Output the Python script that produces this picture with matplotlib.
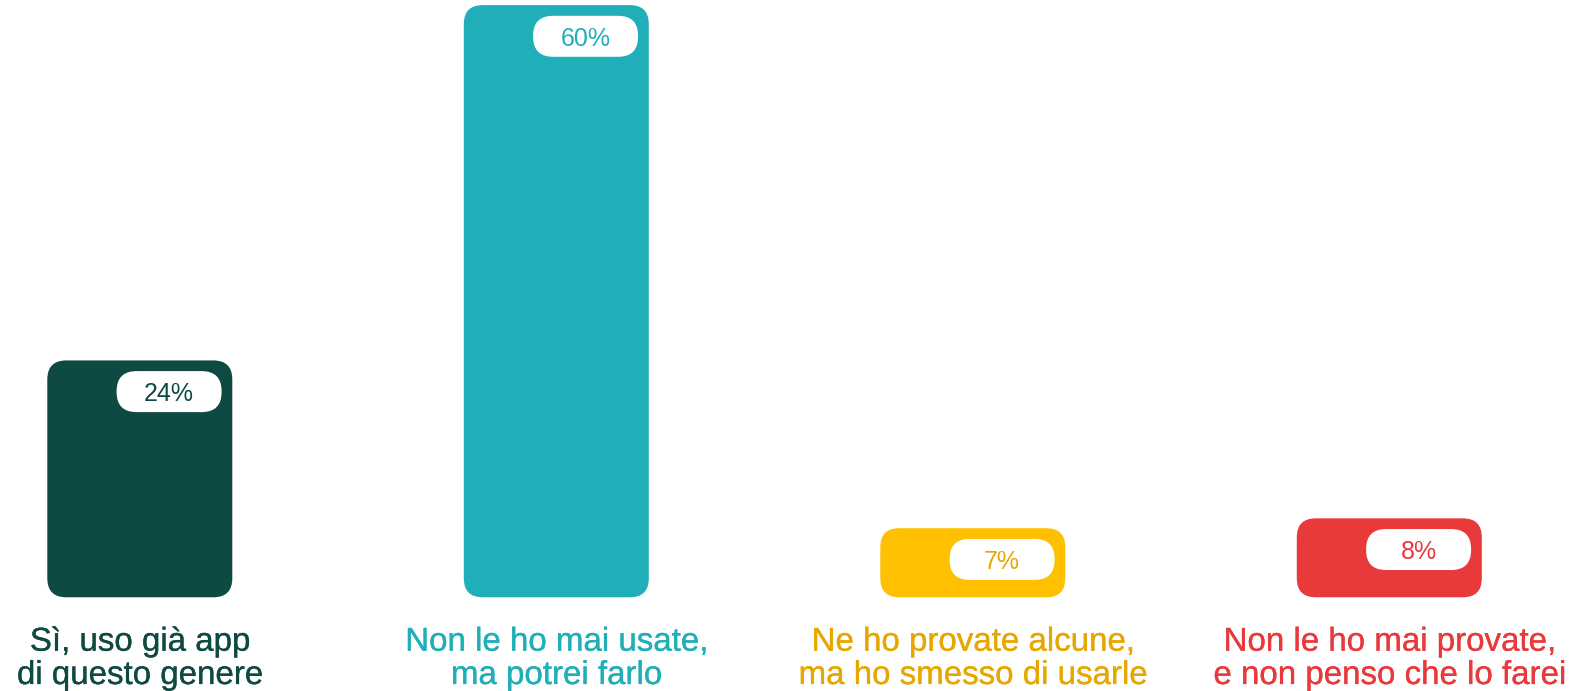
import matplotlib
matplotlib.use("Agg")
import matplotlib.pyplot as plt
import matplotlib.patheffects as pe
from matplotlib.patches import FancyBboxPatch

categories = ["Sì, uso già app\ndi questo genere",
              "Non le ho mai usate,\nma potrei farlo",
              "Ne ho provate alcune,\nma ho smesso di usarle",
              "Non le ho mai provate,\ne non penso che lo farei"]
values = [24, 60, 7, 8]
value_labels = ["24%", "60%", "7%", "8%"]
bar_colors = ["#0f4a42", "#20aeb8", "#ffc000", "#e8393b"]
text_colors = ["#0f4a42", "#20aeb8", "#e6a800", "#e8393b"]

W, H = 1573, 691
fig = plt.figure(figsize=(W / 100, H / 100), dpi=100)
ax = fig.add_axes([0, 0, 1, 1])
ax.set_axis_off()

px_x = 416.5        # pixels per category unit
px_y = 9.87         # pixels per percent
x0_px = 139.8       # first bar center
base_px = 93.7      # bar baseline from bottom
ax.set_xlim(-x0_px / px_x, (W - x0_px) / px_x)
ax.set_ylim(-base_px / px_y, (H - base_px) / px_y)

aspect = px_x / px_y
bw = 185 / px_x
font = ["Liberation Sans", "DejaVu Sans"]

bars = ax.bar(range(len(values)), values, width=bw, color="none")
for i, (b, v) in enumerate(zip(bars, values)):
    b.set_visible(False)
    x = b.get_x()
    ax.add_patch(FancyBboxPatch((x, 0), bw, v,
                                boxstyle=f"round,pad=0,rounding_size={19 / px_x}",
                                mutation_aspect=aspect,
                                fc=bar_colors[i], ec="none"))
    pw, ph = 105 / px_x, 41 / px_y
    pr = x + bw - 10.7 / px_x
    pt = v - 10.7 / px_y
    ax.add_patch(FancyBboxPatch((pr - pw, pt - ph), pw, ph,
                                boxstyle=f"round,pad=0,rounding_size={20 / px_x}",
                                mutation_aspect=aspect,
                                fc="white", ec="none"))
    ax.text(pr - pw / 2, pt - ph / 2, value_labels[i], ha="center", va="center_baseline",
            fontsize=18, color=text_colors[i], family=font)
    for j, line in enumerate(categories[i].split("\n")):
        ax.text(i, -(650.7 - 597.3 + 33.3 * j) / px_y, line, ha="center", va="baseline",
                fontsize=23.8, color=text_colors[i], family=font,
                path_effects=[pe.withStroke(linewidth=0.2, foreground=text_colors[i])])

fig.savefig("out.png", dpi=100)
